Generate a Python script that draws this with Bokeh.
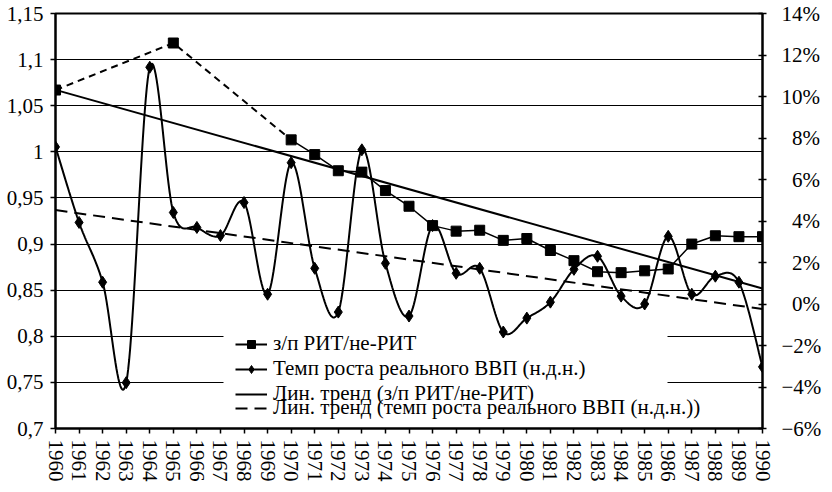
import numpy as np
from bokeh.plotting import figure
from bokeh.models import (Range1d, LinearAxis, FixedTicker, CustomJSTickFormatter,
                          Legend, LegendItem, BoxAnnotation)
from bokeh.embed import file_html
from bokeh.resources import INLINE

# ---------------- data ----------------
years = list(range(1960, 1991))
wage_ratio = [1.067, None, None, None, None, 1.118, None, None, None, None,
              1.013, 0.997, 0.9795, 0.978, 0.958, 0.941, 0.920, 0.914, 0.915, 0.904,
              0.906, 0.893, 0.882, 0.870, 0.869, 0.871, 0.873, 0.900, 0.909, 0.908, 0.908]
gdp_growth = [7.57, 3.93, 1.05, -3.79, 11.41, 4.41, 3.69, 3.30, 4.89, 0.47,
              6.81, 1.72, -0.39, 7.43, 1.96, -0.58, 3.78, 1.48, 1.72, -1.35,
              -0.68, 0.09, 1.67, 2.30, 0.38, 0.00, 3.26, 0.47, 1.34, 1.05, -3.03]
left_ticks = [0.7, 0.75, 0.8, 0.85, 0.9, 0.95, 1.0, 1.05, 1.1, 1.15]
right_ticks = [-6, -4, -2, 0, 2, 4, 6, 8, 10, 12, 14]
legend_labels = ["з/п РИТ/не-РИТ",
                 "Темп роста реального ВВП (н.д.н.)",
                 "Лин. тренд (з/п РИТ/не-РИТ)",
                 "Лин. тренд (темп роста реального ВВП (н.д.н.))"]

FONT = "Liberation Serif"

# ---------------- derived ----------------
yrs = np.array(years, dtype=float)
wage = np.array([np.nan if v is None else v for v in wage_ratio], dtype=float)
gdp = np.array(gdp_growth, dtype=float)
known = ~np.isnan(wage)
gap_end = max(i for i, v in enumerate(wage_ratio) if v is None) + 1
idx = np.arange(len(years))
dash_mask = known & (idx <= gap_end)
solid_mask = known & (idx >= gap_end)

wc = np.polyfit(yrs[known], wage[known], 1)
gc = np.polyfit(yrs, gdp, 1)
trend_x = [years[0], years[-1]]
wage_trend = list(np.polyval(wc, trend_x))
gdp_trend = list(np.polyval(gc, trend_x))


def smooth(x, y, n=24):
    P = np.column_stack([x, y]).astype(float)
    pts = np.vstack([P[0], P, P[-1]])
    xs, ys = [], []
    m = len(P)
    for i in range(1, m):
        p0, p1, p2, p3 = pts[i - 1], pts[i], pts[i + 1], pts[i + 2]
        c1 = p1 + (p2 - p0) / 6.0
        c2 = p2 - (p3 - p1) / 6.0
        t = np.linspace(0, 1, n, endpoint=(i == m - 1))[:, None]
        b = ((1 - t) ** 3) * p1 + 3 * ((1 - t) ** 2) * t * c1 + 3 * (1 - t) * t ** 2 * c2 + t ** 3 * p2
        xs.extend(b[:, 0]); ys.extend(b[:, 1])
    return xs, ys


sx, sy = smooth(yrs, gdp)

# ---------------- figure ----------------
p = figure(width=824, height=484, x_range=Range1d(years[0], years[-1]),
           y_range=Range1d(left_ticks[0], left_ticks[-1]),
           output_backend="svg", toolbar_location=None,
           min_border_left=55, min_border_right=59, min_border_top=13, min_border_bottom=54)
p.extra_y_ranges = {"gdp": Range1d(right_ticks[0], right_ticks[-1])}
p.background_fill_color = "white"
p.border_fill_color = "white"
p.outline_line_color = "black"
p.outline_line_width = 2

p.xgrid.visible = False
p.ygrid.ticker = FixedTicker(ticks=left_ticks)
p.ygrid.grid_line_color = "black"
p.ygrid.grid_line_width = 1
p.ygrid.level = "image"

# white panel behind the legend: hides the grid lines there, not the data
legend_panel = BoxAnnotation(left=223, right=667, top=331, bottom=425,
                             left_units="canvas", right_units="canvas",
                             top_units="canvas", bottom_units="canvas",
                             fill_color="white", fill_alpha=1.0, line_color=None,
                             level="underlay")
p.add_layout(legend_panel)

# x axis
xa = p.xaxis[0]
xa.ticker = FixedTicker(ticks=years)
xa.major_label_orientation = "vertical"
xa.major_tick_out = 5
xa.major_tick_in = 0
xa.minor_tick_line_color = None
xa.axis_line_width = 2
xa.major_tick_line_width = 1.5
xa.major_label_standoff = 6
xa.major_label_text_font = FONT
xa.major_label_text_font_size = "21px"
xa.major_label_text_color = "black"

# left axis
ya = p.yaxis[0]
ya.ticker = FixedTicker(ticks=left_ticks)
ya.formatter = CustomJSTickFormatter(code="return (Math.round(tick*100)/100).toString().replace('.', ',');")
ya.major_tick_out = 5
ya.major_tick_in = 0
ya.minor_tick_line_color = None
ya.axis_line_width = 2
ya.major_tick_line_width = 1.5
ya.major_label_standoff = 7
ya.major_label_text_font = FONT
ya.major_label_text_font_size = "21px"
ya.major_label_text_color = "black"

# right axis
ra = LinearAxis(y_range_name="gdp", ticker=FixedTicker(ticks=right_ticks),
                formatter=CustomJSTickFormatter(code="""
const v = Math.round(tick);
const s = Math.abs(v).toString() + '%';
if (v < 0) return '\u2212' + s;
if (Math.abs(v) < 10) return '\u2007' + s;
return s;
"""))
ra.major_tick_out = 4
ra.major_tick_in = 4
ra.minor_tick_line_color = None
ra.axis_line_width = 2
ra.major_tick_line_width = 1.5
ra.major_label_standoff = 15
ra.major_label_text_font = FONT
ra.major_label_text_font_size = "21px"
ra.major_label_text_color = "black"
p.add_layout(ra, "right")

# trend lines
p.line(trend_x, wage_trend, line_color="black", line_width=2)
p.line(trend_x, gdp_trend, y_range_name="gdp", line_color="black", line_width=2, line_dash="12 7")

# wage series
p.line(list(yrs[dash_mask]), list(wage[dash_mask]), line_color="black", line_width=2, line_dash="7 5")
p.line(list(yrs[solid_mask]), list(wage[solid_mask]), line_color="black", line_width=1.5)
p.scatter(list(yrs[known]), list(wage[known]), marker="square", size=10,
          fill_color="black", line_color="black")

# gdp series
p.line(sx, sy, y_range_name="gdp", line_color="black", line_width=2)
p.scatter(years, gdp_growth, y_range_name="gdp", marker="diamond", size=12,
          fill_color="black", line_color="black")

# legend proxies (nothing drawn in the plot area)
nan = [float("nan")]
l1a = p.line(x=nan, y=nan, line_color="black", line_width=2)
l1b = p.scatter(x=nan, y=nan, marker="square", size=6, fill_color="black", line_color="black")
l2a = p.line(x=nan, y=nan, line_color="black", line_width=2)
l2b = p.scatter(x=nan, y=nan, marker="diamond", size=8, fill_color="black", line_color="black")
l3 = p.line(x=nan, y=nan, line_color="black", line_width=2)
l4 = p.line(x=nan, y=nan, line_color="black", line_width=2, line_dash="12 7")

common = dict(orientation="vertical", padding=0, margin=0, spacing=-2,
              glyph_width=32, glyph_height=20, label_height=20, label_standoff=6,
              label_text_font=FONT, label_text_font_size="21px", label_text_color="black",
              border_line_alpha=0, background_fill_alpha=0.0)
legA = Legend(items=[LegendItem(label=legend_labels[0], renderers=[l1a, l1b]),
                     LegendItem(label=legend_labels[1], renderers=[l2a, l2b]),
                     LegendItem(label=legend_labels[2], renderers=[l3])],
              location=(180, 22), **common)
legB = Legend(items=[LegendItem(label=legend_labels[3], renderers=[l4])],
              location=(180, 8), **common)
p.add_layout(legA)
p.add_layout(legB)

open("out.html", "w").write(file_html(p, INLINE))
